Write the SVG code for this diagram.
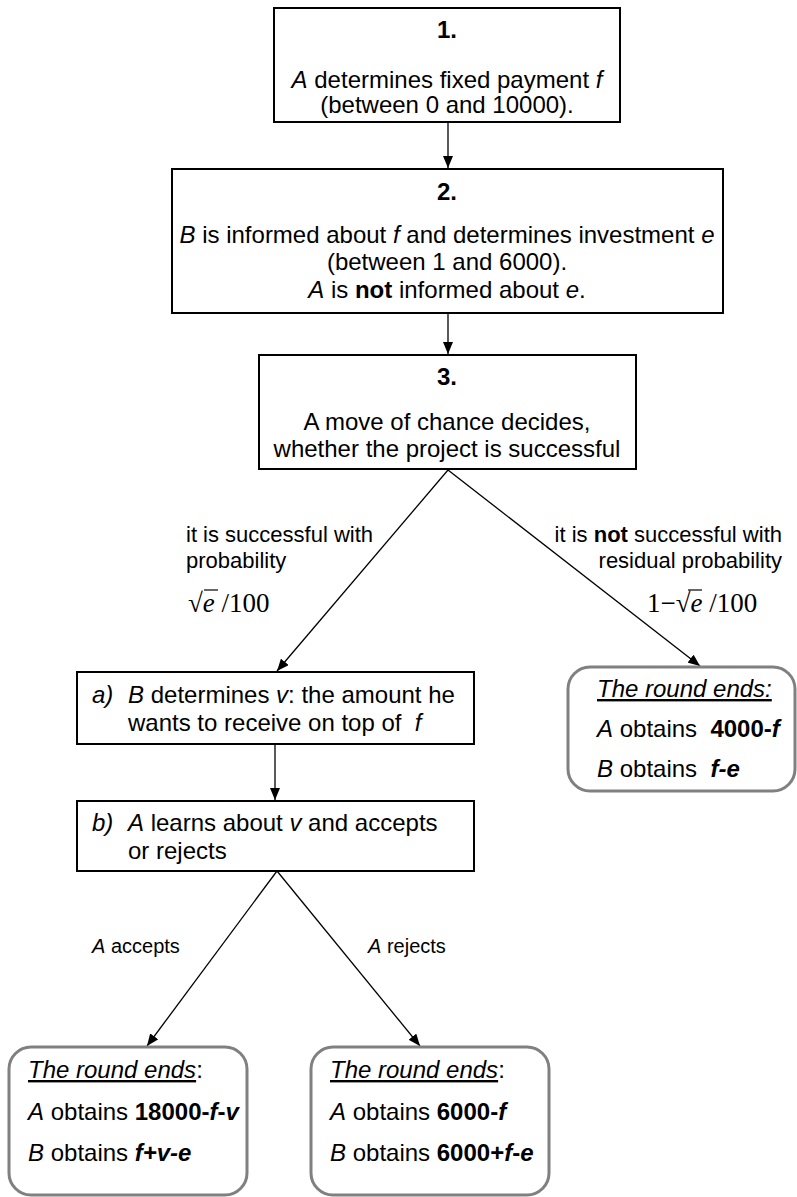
<svg xmlns="http://www.w3.org/2000/svg" width="797" height="1197" viewBox="0 0 797 1197">
<style>
text{font-family:"Liberation Sans",Arial,sans-serif;font-size:24px;fill:#000}
.c{text-anchor:middle}
.i{font-style:italic}
.b{font-weight:bold}
.lab{font-size:22px}
.lab2{font-size:20px}
.m{font-family:"Liberation Serif","Times New Roman",serif;font-size:27px}
.box{fill:#fff;stroke:#000;stroke-width:2}
.rbox{fill:#fff;stroke:#808080;stroke-width:3}
.con{stroke:#000;stroke-width:1.3;fill:none;marker-end:url(#ah)}
.u{text-decoration:underline}
</style>
<defs>
<marker id="ah" markerUnits="userSpaceOnUse" markerWidth="12" markerHeight="10" refX="12" refY="5" orient="auto">
<path d="M0,0 L12,5 L0,10 z" fill="#000"/>
</marker>
</defs>
<g id="connectors">
<line class="con" x1="448" y1="122" x2="448" y2="168"/>
<line class="con" x1="448" y1="313" x2="448" y2="354"/>
<line class="con" x1="448" y1="470" x2="277" y2="671"/>
<line class="con" x1="448" y1="470" x2="700" y2="666"/>
<line class="con" x1="275" y1="744" x2="275" y2="800"/>
<line class="con" x1="277" y1="871" x2="147" y2="1046"/>
<line class="con" x1="277" y1="871" x2="420" y2="1046"/>
</g>
<g id="node1">
<rect class="box" x="274" y="8" width="346" height="114"/>
<text class="c b" x="447" y="38">1.</text>
<text class="c" x="447" y="88"><tspan class="i">A</tspan> determines fixed payment <tspan class="i">f</tspan></text>
<text class="c" x="447" y="113">(between 0 and 10000).</text>
</g>
<g id="node2">
<rect class="box" x="172" y="169" width="551" height="144"/>
<text class="c b" x="447" y="200">2.</text>
<text class="c" x="447" y="243"><tspan class="i">B</tspan> is informed about <tspan class="i">f</tspan> and determines investment <tspan class="i">e</tspan></text>
<text class="c" x="447" y="270">(between 1 and 6000).</text>
<text class="c" x="447" y="298"><tspan class="i">A</tspan> is <tspan class="b">not</tspan> informed about <tspan class="i">e</tspan>.</text>
</g>
<g id="node3">
<rect class="box" x="259" y="355" width="377" height="114"/>
<text class="c b" x="447" y="385">3.</text>
<text class="c" x="447" y="430">A move of chance decides,</text>
<text class="c" x="447" y="457">whether the project is successful</text>
</g>
<g id="label-success">
<text class="lab" x="186" y="542">it is successful with</text>
<text class="lab" x="186" y="568">probability</text>
<text class="m" x="188" y="612">√<tspan class="i">e</tspan> /100</text>
<line x1="204" y1="590" x2="218" y2="590" stroke="#000" stroke-width="1.2"/>
</g>
<g id="label-fail">
<text class="lab" x="782" y="542" text-anchor="end">it is <tspan class="b">not</tspan> successful with</text>
<text class="lab" x="782" y="568" text-anchor="end">residual probability</text>
<text class="m" x="647" y="612">1−√<tspan class="i">e</tspan> /100</text>
<line x1="688" y1="590" x2="702" y2="590" stroke="#000" stroke-width="1.2"/>
</g>
<g id="node-a">
<rect class="box" x="77" y="672" width="397" height="72"/>
<text class="i" x="92" y="703">a)</text>
<text x="128" y="703"><tspan class="i">B</tspan> determines <tspan class="i">v</tspan>: the amount he</text>
<text x="128" y="731">wants to receive on top of &#160;<tspan class="i">f</tspan></text>
</g>
<g id="node-b">
<rect class="box" x="77" y="801" width="397" height="70"/>
<text class="i" x="92" y="831">b)</text>
<text x="128" y="831"><tspan class="i">A</tspan> learns about <tspan class="i">v</tspan> and accepts</text>
<text x="128" y="859">or rejects</text>
</g>
<g id="node-end-fail">
<rect class="rbox" x="568" y="667" width="227" height="124" rx="22"/>
<text class="i u" x="597" y="697">The round ends:</text>
<text x="597" y="737"><tspan class="i">A</tspan> obtains &#160;<tspan class="b">4000-<tspan class="i">f</tspan></tspan></text>
<text x="597" y="777"><tspan class="i">B</tspan> obtains &#160;<tspan class="b i">f-e</tspan></text>
</g>
<g id="label-accept">
<text class="lab2" x="92" y="953"><tspan class="i">A</tspan> accepts</text>
</g>
<g id="label-reject">
<text class="lab2" x="368" y="953"><tspan class="i">A</tspan> rejects</text>
</g>
<g id="node-accept">
<rect class="rbox" x="9" y="1047" width="238" height="148" rx="22"/>
<text x="28" y="1078"><tspan class="i u">The round ends</tspan>:</text>
<text x="28" y="1120"><tspan class="i">A</tspan> obtains <tspan class="b">18000-<tspan class="i">f</tspan>-<tspan class="i">v</tspan></tspan></text>
<text x="28" y="1161"><tspan class="i">B</tspan> obtains <tspan class="b i">f+v-e</tspan></text>
</g>
<g id="node-reject">
<rect class="rbox" x="311" y="1047" width="238" height="148" rx="22"/>
<text x="330" y="1078"><tspan class="i u">The round ends</tspan>:</text>
<text x="330" y="1120"><tspan class="i">A</tspan> obtains <tspan class="b">6000-<tspan class="i">f</tspan></tspan></text>
<text x="330" y="1161"><tspan class="i">B</tspan> obtains <tspan class="b">6000+<tspan class="i">f</tspan>-<tspan class="i">e</tspan></tspan></text>
</g>
</svg>
